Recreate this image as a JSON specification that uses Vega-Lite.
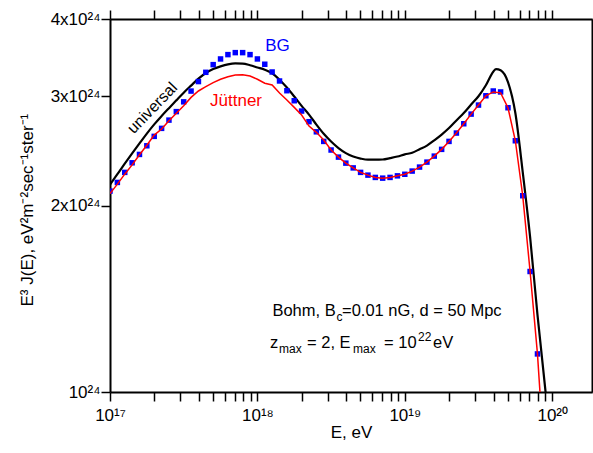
{
  "$schema": "https://vega.github.io/schema/vega-lite/v6.json",
  "width": 482,
  "height": 373,
  "autosize": {"type": "none"},
  "padding": {"left": 110, "top": 19, "right": 1, "bottom": 61},
  "background": "white",
  "config": {
    "view": {"stroke": null},
    "font": "Liberation Sans",
    "axis": {
      "domainColor": "black", "domainWidth": 2, "tickColor": "black", "tickWidth": 1.5,
      "labelColor": "black", "titleColor": "black", "labelFont": "Liberation Sans", "titleFont": "Liberation Sans",
      "labelFontSize": 17, "titleFontSize": 17, "titleFontWeight": "normal", "grid": false,
      "labelFlush": false, "labelOverlap": false, "tickSize": 9
    }
  },
  "datasets": {
    "bg": [
      {"E":1.000e17,"J":2.110},{"E":1.122e17,"J":2.179},{"E":1.259e17,"J":2.262},{"E":1.413e17,"J":2.344},{"E":1.585e17,"J":2.418},
      {"E":1.778e17,"J":2.497},{"E":1.995e17,"J":2.586},{"E":2.239e17,"J":2.664},{"E":2.512e17,"J":2.747},{"E":2.818e17,"J":2.835},
      {"E":3.162e17,"J":2.940},{"E":3.548e17,"J":3.060},{"E":3.981e17,"J":3.170},{"E":4.467e17,"J":3.281},{"E":5.012e17,"J":3.376},
      {"E":5.623e17,"J":3.448},{"E":6.310e17,"J":3.504},{"E":7.079e17,"J":3.530},{"E":7.943e17,"J":3.530},{"E":8.913e17,"J":3.504},
      {"E":1.000e18,"J":3.448},{"E":1.122e18,"J":3.381},{"E":1.259e18,"J":3.285},{"E":1.413e18,"J":3.177},{"E":1.585e18,"J":3.064},
      {"E":1.778e18,"J":2.952},{"E":1.995e18,"J":2.841},{"E":2.239e18,"J":2.731},{"E":2.512e18,"J":2.630},{"E":2.818e18,"J":2.538},
      {"E":3.162e18,"J":2.458},{"E":3.548e18,"J":2.394},{"E":3.981e18,"J":2.341},{"E":4.467e18,"J":2.300},{"E":5.012e18,"J":2.262},
      {"E":5.623e18,"J":2.239},{"E":6.310e18,"J":2.220},{"E":7.079e18,"J":2.214},{"E":7.943e18,"J":2.220},{"E":8.913e18,"J":2.233},
      {"E":1.000e19,"J":2.246},{"E":1.122e19,"J":2.273},{"E":1.259e19,"J":2.307},{"E":1.413e19,"J":2.350},{"E":1.585e19,"J":2.403},
      {"E":1.778e19,"J":2.464},{"E":1.995e19,"J":2.538},{"E":2.239e19,"J":2.618},{"E":2.512e19,"J":2.710},{"E":2.818e19,"J":2.809},
      {"E":3.162e19,"J":2.905},{"E":3.548e19,"J":3.007},{"E":3.981e19,"J":3.061},{"E":4.467e19,"J":3.050},{"E":5.012e19,"J":2.876},
      {"E":5.623e19,"J":2.544},{"E":6.310e19,"J":2.074},{"E":7.079e19,"J":1.565},{"E":7.943e19,"J":1.152}
    ],
    "red": [
      {"E":1.000e17,"J":2.090},{"E":1.122e17,"J":2.165},{"E":1.259e17,"J":2.247},{"E":1.413e17,"J":2.326},{"E":1.585e17,"J":2.415},
      {"E":1.778e17,"J":2.502},{"E":1.995e17,"J":2.598},{"E":2.239e17,"J":2.657},{"E":2.512e17,"J":2.740},{"E":2.818e17,"J":2.817},
      {"E":3.162e17,"J":2.897},{"E":3.548e17,"J":2.989},{"E":3.981e17,"J":3.061},{"E":4.467e17,"J":3.110},{"E":5.012e17,"J":3.157},
      {"E":5.623e17,"J":3.197},{"E":6.310e17,"J":3.228},{"E":7.079e17,"J":3.248},{"E":7.943e17,"J":3.252},{"E":8.913e17,"J":3.236},
      {"E":1.000e18,"J":3.197},{"E":1.122e18,"J":3.150},{"E":1.259e18,"J":3.130},{"E":1.413e18,"J":3.038},{"E":1.585e18,"J":2.960},
      {"E":1.778e18,"J":2.880},{"E":1.995e18,"J":2.799},{"E":2.239e18,"J":2.687},{"E":2.512e18,"J":2.625},{"E":2.818e18,"J":2.551},
      {"E":3.162e18,"J":2.458},{"E":3.548e18,"J":2.394},{"E":3.981e18,"J":2.341},{"E":4.467e18,"J":2.300},{"E":5.012e18,"J":2.262},
      {"E":5.623e18,"J":2.239},{"E":6.310e18,"J":2.220},{"E":7.079e18,"J":2.214},{"E":7.943e18,"J":2.220},{"E":8.913e18,"J":2.233},
      {"E":1.000e19,"J":2.246},{"E":1.122e19,"J":2.273},{"E":1.259e19,"J":2.307},{"E":1.413e19,"J":2.350},{"E":1.585e19,"J":2.403},
      {"E":1.778e19,"J":2.464},{"E":1.995e19,"J":2.538},{"E":2.239e19,"J":2.618},{"E":2.512e19,"J":2.710},{"E":2.818e19,"J":2.809},
      {"E":3.162e19,"J":2.905},{"E":3.548e19,"J":3.007},{"E":3.981e19,"J":3.050},{"E":4.467e19,"J":3.040},{"E":5.012e19,"J":2.876},
      {"E":5.623e19,"J":2.544},{"E":6.310e19,"J":2.074},{"E":7.079e19,"J":1.565},{"E":7.943e19,"J":1.152},{"E":8.26e19,"J":1.0}
    ],
    "black": [
      {"E":1.000e17,"J":2.161},{"E":1.122e17,"J":2.247},{"E":1.259e17,"J":2.336},{"E":1.413e17,"J":2.427},{"E":1.585e17,"J":2.519},
      {"E":1.778e17,"J":2.613},{"E":1.995e17,"J":2.704},{"E":2.239e17,"J":2.789},{"E":2.512e17,"J":2.872},{"E":2.818e17,"J":2.956},
      {"E":3.162e17,"J":3.042},{"E":3.548e17,"J":3.123},{"E":3.981e17,"J":3.204},{"E":4.467e17,"J":3.273},{"E":5.012e17,"J":3.321},
      {"E":5.623e17,"J":3.354},{"E":6.310e17,"J":3.379},{"E":7.079e17,"J":3.391},{"E":7.943e17,"J":3.389},{"E":8.913e17,"J":3.369},
      {"E":1.000e18,"J":3.341},{"E":1.122e18,"J":3.313},{"E":1.259e18,"J":3.270},{"E":1.413e18,"J":3.192},{"E":1.585e18,"J":3.100},
      {"E":1.778e18,"J":2.999},{"E":1.995e18,"J":2.896},{"E":2.239e18,"J":2.804},{"E":2.512e18,"J":2.702},{"E":2.818e18,"J":2.611},
      {"E":3.162e18,"J":2.537},{"E":3.548e18,"J":2.476},{"E":3.981e18,"J":2.430},{"E":4.467e18,"J":2.399},{"E":5.012e18,"J":2.381},
      {"E":5.623e18,"J":2.371},{"E":6.310e18,"J":2.371},{"E":7.079e18,"J":2.373},{"E":7.943e18,"J":2.385},{"E":8.913e18,"J":2.399},
      {"E":1.000e19,"J":2.419},{"E":1.122e19,"J":2.433},{"E":1.259e19,"J":2.465},{"E":1.413e19,"J":2.499},{"E":1.585e19,"J":2.548},
      {"E":1.778e19,"J":2.603},{"E":1.995e19,"J":2.667},{"E":2.239e19,"J":2.744},{"E":2.512e19,"J":2.820},{"E":2.818e19,"J":2.911},
      {"E":3.162e19,"J":3.002},{"E":3.548e19,"J":3.127},{"E":3.981e19,"J":3.288},{"E":4.159e19,"J":3.321},{"E":4.467e19,"J":3.306},
      {"E":5.012e19,"J":3.164},{"E":5.623e19,"J":2.821},{"E":6.310e19,"J":2.265},{"E":7.079e19,"J":1.780},{"E":7.943e19,"J":1.333},
      {"E":9.016e19,"J":1.0}
    ],
    "notes": [
      {"E":3.441e18,"J":1.35,"t":"c","kind":"sub"},
      {"E":3.75e18,"J":1.35,"t":"=0.01 nG, d = 50 Mpc","kind":"norm"},
      {"E":1.218e18,"J":1.198,"t":"z","kind":"norm"},
      {"E":1.401e18,"J":1.198,"t":"max","kind":"sub"},
      {"E":2.171e18,"J":1.198,"t":"= 2, E","kind":"norm"},
      {"E":4.453e18,"J":1.198,"t":"max","kind":"sub"},
      {"E":7.224e18,"J":1.198,"t":"= 10","kind":"norm"},
      {"E":1.229e19,"J":1.198,"t":"22","kind":"sup"},
      {"E":1.554e19,"J":1.198,"t":"eV","kind":"norm"}
    ]
  },
  "layer": [
    {
      "data": {"name": "black"},
      "mark": {"type": "line", "color": "black", "strokeWidth": 2.2, "interpolate": "monotone", "clip": true},
      "encoding": {
        "x": {"field": "E", "type": "quantitative", "scale": {"type": "log", "domain": [1e17, 1.862e20], "nice": false},
          "axis": {"orient": "bottom", "title": "E, eV", "titleY": 40, "titleBaseline": "middle", "labelPadding": 6,
            "values": [1e17,2e17,3e17,4e17,5e17,6e17,7e17,8e17,9e17,1e18,2e18,3e18,4e18,5e18,6e18,7e18,8e18,9e18,1e19,2e19,3e19,4e19,5e19,6e19,7e19,8e19,9e19,1e20],
            "labelExpr": "datum.value == 1e17 ? '10¹⁷' : datum.value == 1e18 ? '10¹⁸' : datum.value == 1e19 ? '10¹⁹' : datum.value == 1e20 ? '10²⁰' : ''",
            "encode": {"ticks": {"update": {"y2": {"signal": "(datum.value == 1e17 || datum.value == 1e18 || datum.value == 1e19 || datum.value == 1e20) ? -9 : -5"}}}}}},
        "y": {"field": "J", "type": "quantitative", "scale": {"type": "log", "domain": [1, 4], "nice": false},
          "axis": {"orient": "left", "title": null, "labelPadding": 1,
            "values": [1, 2, 3, 4],
            "labelExpr": "datum.value == 1 ? '10²⁴' : datum.value + 'x10²⁴'",
            "encode": {"ticks": {"update": {"x2": {"value": 9}}}}}}
      }
    },
    {
      "data": {"name": "bg"},
      "mark": {"type": "square", "size": 30, "color": "#0000ff", "opacity": 1, "clip": true},
      "encoding": {
        "x": {"field": "E", "type": "quantitative", "scale": {"type": "log", "domain": [1e17, 1.862e20], "nice": false},
          "axis": {"orient": "top", "title": null, "labels": false,
            "values": [1e17,2e17,3e17,4e17,5e17,6e17,7e17,8e17,9e17,1e18,2e18,3e18,4e18,5e18,6e18,7e18,8e18,9e18,1e19,2e19,3e19,4e19,5e19,6e19,7e19,8e19,9e19,1e20],
            "encode": {"ticks": {"update": {"y2": {"signal": "(datum.value == 1e17 || datum.value == 1e18 || datum.value == 1e19 || datum.value == 1e20) ? 9 : 5"}}}}}},
        "y": {"field": "J", "type": "quantitative", "scale": {"type": "log", "domain": [1, 4], "nice": false},
          "axis": {"orient": "right", "title": null, "labels": false, "values": [1, 2, 3, 4],
            "encode": {"ticks": {"update": {"x2": {"value": -9}}}}}}
      }
    },
    {
      "data": {"name": "red"},
      "mark": {"type": "line", "color": "#ff0000", "strokeWidth": 1.5, "clip": true},
      "encoding": {
        "x": {"field": "E", "type": "quantitative", "scale": {"type": "log", "domain": [1e17, 1.862e20], "nice": false}, "axis": null},
        "y": {"field": "J", "type": "quantitative", "scale": {"type": "log", "domain": [1, 4], "nice": false}, "axis": null}
      }
    },
    {
      "data": {"values": [{"E": 3.003e16, "J": 1.966, "t": "E³ J(E),  eV²m⁻²sec⁻¹ster⁻¹"}]},
      "mark": {"type": "text", "fontSize": 17, "color": "black", "angle": 270, "align": "center", "baseline": "alphabetic"},
      "encoding": {
        "x": {"field": "E", "type": "quantitative", "scale": {"type": "log", "domain": [1e17, 1.862e20], "nice": false}, "axis": null},
        "y": {"field": "J", "type": "quantitative", "scale": {"type": "log", "domain": [1, 4], "nice": false}, "axis": null},
        "text": {"field": "t"}
      }
    },
    {
      "data": {"values": [{"E": 1.94e17, "J": 2.873, "t": "universal"}]},
      "mark": {"type": "text", "fontSize": 16, "color": "black", "angle": -46, "align": "center", "baseline": "middle"},
      "encoding": {
        "x": {"field": "E", "type": "quantitative", "scale": {"type": "log", "domain": [1e17, 1.862e20], "nice": false}, "axis": null},
        "y": {"field": "J", "type": "quantitative", "scale": {"type": "log", "domain": [1, 4], "nice": false}, "axis": null},
        "text": {"field": "t"}
      }
    },
    {
      "data": {"values": [{"E": 1.37e18, "J": 3.618, "t": "BG"}]},
      "mark": {"type": "text", "fontSize": 17, "color": "#0000ff", "align": "center", "baseline": "middle"},
      "encoding": {
        "x": {"field": "E", "type": "quantitative", "scale": {"type": "log", "domain": [1e17, 1.862e20], "nice": false}, "axis": null},
        "y": {"field": "J", "type": "quantitative", "scale": {"type": "log", "domain": [1, 4], "nice": false}, "axis": null},
        "text": {"field": "t"}
      }
    },
    {
      "data": {"values": [{"E": 7.16e17, "J": 2.949, "t": "Jüttner"}]},
      "mark": {"type": "text", "fontSize": 17, "color": "#ff0000", "align": "center", "baseline": "middle"},
      "encoding": {
        "x": {"field": "E", "type": "quantitative", "scale": {"type": "log", "domain": [1e17, 1.862e20], "nice": false}, "axis": null},
        "y": {"field": "J", "type": "quantitative", "scale": {"type": "log", "domain": [1, 4], "nice": false}, "axis": null},
        "text": {"field": "t"}
      }
    },
    {
      "data": {"values": [{"E": 3.398e18, "J": 1.35, "t": "Bohm,  B"}]},
      "mark": {"type": "text", "fontSize": 16.5, "color": "black", "align": "right", "baseline": "middle"},
      "encoding": {
        "x": {"field": "E", "type": "quantitative", "scale": {"type": "log", "domain": [1e17, 1.862e20], "nice": false}, "axis": null},
        "y": {"field": "J", "type": "quantitative", "scale": {"type": "log", "domain": [1, 4], "nice": false}, "axis": null},
        "text": {"field": "t"}
      }
    },
    {
      "data": {"name": "notes"},
      "transform": [{"filter": "datum.kind == 'norm'"}],
      "mark": {"type": "text", "color": "black", "align": "left", "baseline": "middle", "fontSize": 16.5},
      "encoding": {
        "x": {"field": "E", "type": "quantitative", "scale": {"type": "log", "domain": [1e17, 1.862e20], "nice": false}, "axis": null},
        "y": {"field": "J", "type": "quantitative", "scale": {"type": "log", "domain": [1, 4], "nice": false}, "axis": null},
        "text": {"field": "t"}
      }
    },
    {
      "data": {"name": "notes"},
      "transform": [{"filter": "datum.kind == 'sub'"}],
      "mark": {"type": "text", "color": "black", "align": "left", "baseline": "middle", "fontSize": 12, "dy": 6},
      "encoding": {
        "x": {"field": "E", "type": "quantitative", "scale": {"type": "log", "domain": [1e17, 1.862e20], "nice": false}, "axis": null},
        "y": {"field": "J", "type": "quantitative", "scale": {"type": "log", "domain": [1, 4], "nice": false}, "axis": null},
        "text": {"field": "t"}
      }
    },
    {
      "data": {"name": "notes"},
      "transform": [{"filter": "datum.kind == 'sup'"}],
      "mark": {"type": "text", "color": "black", "align": "left", "baseline": "middle", "fontSize": 12, "dy": -6},
      "encoding": {
        "x": {"field": "E", "type": "quantitative", "scale": {"type": "log", "domain": [1e17, 1.862e20], "nice": false}, "axis": null},
        "y": {"field": "J", "type": "quantitative", "scale": {"type": "log", "domain": [1, 4], "nice": false}, "axis": null},
        "text": {"field": "t"}
      }
    }
  ],
  "resolve": {"axis": {"x": "independent", "y": "independent"}}
}
